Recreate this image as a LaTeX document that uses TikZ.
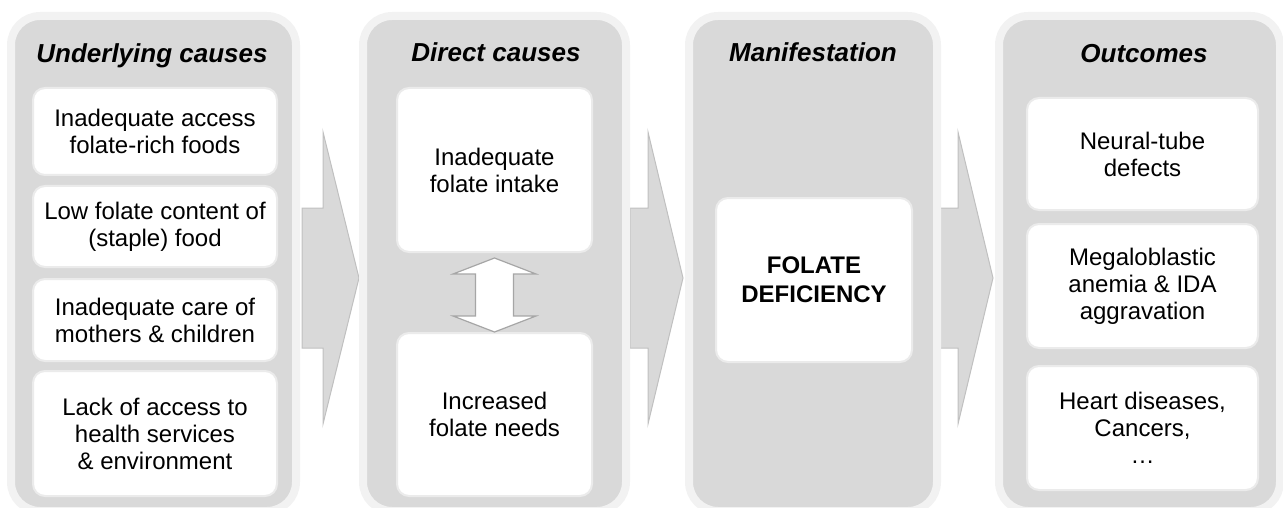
\documentclass[tikz,border=0pt]{standalone}
\usepackage{fontspec}
\setmainfont{Liberation Sans}
\usetikzlibrary{calc}
\definecolor{panelgray}{HTML}{D9D9D9}
\definecolor{panelrim}{HTML}{F2F2F2}
\definecolor{boxrim}{HTML}{EBEBEB}
\definecolor{arrowline}{HTML}{C0C0C0}
\definecolor{dblline}{HTML}{A6A6A6}

\begin{document}
\begin{tikzpicture}[x=1pt,y=-1pt,
  panel/.style={draw=panelrim, line width=8pt, fill=panelgray, rounded corners=29pt, inner sep=0pt},
  wbox/.style={draw=boxrim, line width=2pt, fill=white, rounded corners=12pt, align=center,
    inner sep=0pt, font=\fontsize{24}{27}\selectfont},
  ptitle/.style={font=\fontsize{26}{30}\selectfont\bfseries\itshape, anchor=base, inner sep=0pt},
  blockarrow/.style={fill=panelgray, draw=arrowline, line width=1pt},
  dblarrow/.style={fill=white, draw=dblline, line width=1.2pt}]
\useasboundingbox (0,0) rectangle (1283,508);

% block arrows between the columns: #1 tail, #2 head base, #3 tip
\newcommand{\flowarrow}[3]{%
  \draw[blockarrow] (#1,208) -- (#2,208) -- (#2,132) -- (#3,278) -- (#2,424)
    -- (#2,348) -- (#1,348) -- cycle;}
\flowarrow{302}{323}{359}
\flowarrow{630}{648}{683}
\flowarrow{940}{958}{993}

% columns
\node[panel, minimum width=285pt, minimum height=495pt] (p1) at (153.5,263.5) {};
\node[panel, minimum width=263pt, minimum height=495pt] (p2) at (494.5,263.5) {};
\node[panel, minimum width=248pt, minimum height=495pt] (p3) at (813,263.5) {};
\node[panel, minimum width=281pt, minimum height=495pt] (p4) at (1139.5,263.5) {};

% column titles
\node[ptitle] (t1) at (152,63) {Underlying causes};
\node[ptitle] (t2) at (496,62) {Direct causes};
\node[ptitle] (t3) at (813,62) {Manifestation};
\node[ptitle] (t4) at (1144,63) {Outcomes};

% underlying causes
\node[wbox, minimum width=244pt, minimum height=87pt] (u1) at (155,131.5)
  {Inadequate access\\folate-rich foods};
\node[wbox, minimum width=244pt, minimum height=81pt] (u2) at (155,226.5)
  {Low folate content of\\(staple) food};
\node[wbox, minimum width=244pt, minimum height=82pt] (u3) at (155,320)
  {Inadequate care of\\mothers \& children};
\node[wbox, minimum width=244pt, minimum height=125pt] (u4) at (155,433.5)
  {Lack of access to\\health services\\\& environment};

% direct causes
\node[wbox, minimum width=195pt, minimum height=164pt] (dA) at (494.5,170)
  {Inadequate\\folate intake};
\node[wbox, minimum width=195pt, minimum height=163pt] (dB) at (494.5,414.5)
  {Increased\\folate needs};

\coordinate (u) at ($(dA.south)+(0,5)$);
\coordinate (v) at (dB.north);
\draw[dblarrow] (u) -- ($(u)+(41.5,16)$) -- ($(u)+(19,16)$) -- ($(v)+(19,-16)$)
  -- ($(v)+(41.5,-16)$) -- (v) -- ($(v)+(-41.5,-16)$) -- ($(v)+(-19,-16)$)
  -- ($(u)+(-19,16)$) -- ($(u)+(-41.5,16)$) -- cycle;

% manifestation
\node[wbox, minimum width=196pt, minimum height=164pt,
  font=\fontsize{24}{29}\selectfont\bfseries] (m) at (814,280)
  {FOLATE\\DEFICIENCY};

% outcomes
\node[wbox, minimum width=231pt, minimum height=112pt] (o1) at (1142.5,154)
  {Neural-tube\\defects};
\node[wbox, minimum width=231pt, minimum height=124pt] (o2) at (1142.5,286)
  {Megaloblastic\\anemia \& IDA\\aggravation};
\node[wbox, minimum width=231pt, minimum height=124pt] (o3) at (1142.5,428)
  {Heart diseases,\\Cancers,\\…};
\end{tikzpicture}
\end{document}
